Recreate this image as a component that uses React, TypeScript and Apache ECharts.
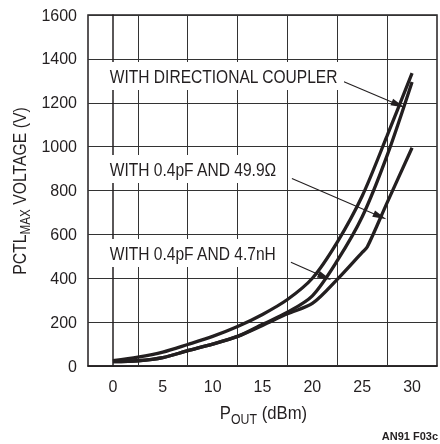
import React, { useEffect, useRef } from "react";
import * as echarts from "echarts";

// P_OUT (dBm) sample points
const xValues = [0, 2.5, 5, 7.5, 10, 12.5, 15, 17.5, 20, 22.5, 25, 27.5, 30];
// WITH DIRECTIONAL COUPLER
const couplerV = [24, 40, 63, 98, 135, 180, 235, 303, 400, 565, 775, 1050, 1335];
// WITH 0.4pF AND 4.7nH
const nHV = [20, 24, 38, 70, 100, 135, 190, 245, 320, 480, 680, 960, 1295];
// WITH 0.4pF AND 49.9Ω
const ohmX = [0, 2.5, 5, 7.5, 10, 12.5, 15, 17.5, 20, 22.5, 25, 25.5, 27.5, 30];
const ohmV = [20, 24, 38, 70, 100, 135, 185, 238, 285, 395, 518, 542, 745, 995];

const xTickLabels = [0, 5, 10, 15, 20, 25, 30];
const xGridValues = [2.5, 7.5, 12.5, 17.5, 22.5, 27.5];

const labels = ["WITH DIRECTIONAL COUPLER", "WITH 0.4pF AND 49.9Ω", "WITH 0.4pF AND 4.7nH"];
// arrows: [fromX, fromV, toX, toV]
const arrows = [
  [22.93, 1300, 28.61, 1191],
  [17.95, 855, 26.79, 682],
  [17.85, 473, 21.24, 405],
];

const FONT = "'Liberation Sans', Arial, Helvetica, sans-serif";
const INK = "#231f20";

export default function App() {
  const ref = useRef<HTMLDivElement>(null);
  useEffect(() => {
    if (!ref.current) return;
    const chart = echarts.init(ref.current, null, { renderer: "svg" });
    const toPairs = (xs: number[], vs: number[]) => xs.map((x, i) => [x, vs[i]]);
    const lineStyle = { color: INK, width: 3.3 };
    const labelTops = [62, 155, 239];
    const nameRich = {
      p: { fontFamily: FONT, fontSize: 19, fill: INK, lineHeight: 22, verticalAlign: "bottom" },
      s: { fontFamily: FONT, fontSize: 14, fill: INK, lineHeight: 22, verticalAlign: "bottom", padding: [0, 0, -4, 0] },
    };
    chart.setOption({
      animation: false,
      grid: {
        left: 88,
        right: 1.5,
        top: 15,
        bottom: 78,
        show: true,
        borderColor: INK,
        borderWidth: 1.5,
      },
      xAxis: {
        type: "value",
        min: -2.5,
        max: 32.5,
        interval: 2.5,
        axisLine: { show: true, lineStyle: { color: INK, width: 1.5 } },
        axisTick: { show: false },
        splitLine: { show: false },
        axisLabel: {
          margin: 12,
          fontFamily: FONT,
          fontSize: 16,
          color: INK,
          formatter: (v: number) => (xTickLabels.includes(v) ? String(v) : ""),
        },
      },
      yAxis: {
        type: "value",
        min: 0,
        max: 1600,
        interval: 200,
        axisLine: { show: true, lineStyle: { color: INK, width: 1.5 } },
        axisTick: { show: false },
        splitLine: { show: true, lineStyle: { color: "#333", width: 1 } },
        axisLabel: {
          margin: 11,
          fontFamily: FONT,
          fontSize: 16,
          color: INK,
          formatter: (v: number) => String(v),
        },
      },
      series: [
        {
          type: "line",
          name: labels[0],
          data: toPairs(xValues, couplerV),
          symbol: "none",
          smooth: 0.3,
          lineStyle,
          z: 3,
          markLine: {
            silent: true,
            symbol: "none",
            label: { show: false },
            lineStyle: { color: "#333", width: 1, type: "solid" },
            data: xGridValues.map((x) => ({ xAxis: x })),
            z: 1,
          },
        },
        {
          type: "line",
          name: labels[2],
          data: toPairs(xValues, nHV),
          symbol: "none",
          smooth: 0.3,
          lineStyle,
          z: 3,
        },
        {
          type: "line",
          name: labels[1],
          data: toPairs(ohmX, ohmV),
          symbol: "none",
          smooth: 0.3,
          lineStyle,
          z: 3,
          markLine: {
            silent: true,
            label: { show: false },
            lineStyle: { color: INK, width: 1.1, type: "solid" },
            z: 4,
            data: arrows.map((a) => [
              { coord: [a[0], a[1]], symbol: "none" },
              { coord: [a[2], a[3]], symbol: "triangle", symbolSize: [7, 14], itemStyle: { color: INK } },
            ]),
          },
        },
      ],
      graphic: [
        ...labels.map((t, i) => ({
          type: "text",
          x: 104,
          y: labelTops[i],
          scaleX: 0.82,
          z: 100,
          style: {
            text: t,
            fontFamily: FONT,
            fontSize: 19,
            lineHeight: 20,
            fill: INK,
            backgroundColor: "#fff",
            padding: [4, 7],
          },
        })),
        {
          type: "text",
          x: 17.5,
          y: 191,
          rotation: Math.PI / 2,
          scaleX: 0.83,
          style: {
            text: "{p|PCTL}{s|MAX}{p| VOLTAGE (V)}",
            align: "center",
            verticalAlign: "middle",
            rich: nameRich,
          },
        },
        {
          type: "text",
          x: 263.5,
          y: 411,
          scaleX: 0.88,
          style: {
            text: "{p|P}{s|OUT}{p| (dBm)}",
            align: "center",
            verticalAlign: "middle",
            rich: nameRich,
          },
        },
        {
          type: "text",
          right: 2,
          top: 430,
          style: { text: "AN91 F03c", fontFamily: FONT, fontSize: 11, fontWeight: "bold", fill: INK },
        },
      ],
    });
    return () => chart.dispose();
  }, []);
  return <div ref={ref} style={{ position: "fixed", left: 0, top: 0, width: 440, height: 444 }} />;
}
